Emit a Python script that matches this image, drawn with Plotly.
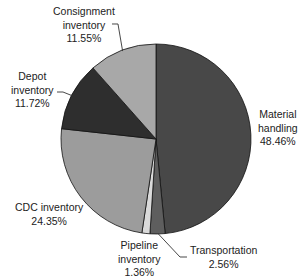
import math
import plotly.graph_objects as go

# ---- data ----
labels = ["Material handling", "Transportation", "Pipeline inventory",
          "CDC inventory", "Depot inventory", "Consignment inventory"]
values = [48.46, 2.56, 1.36, 24.35, 11.72, 11.55]
label_text = ["Material<br>handling<br>48.46%", "Transportation<br>2.56%",
              "Pipeline<br>inventory<br>1.36%", "CDC inventory<br>24.35%",
              "Depot<br>inventory<br>11.72%", "Consignment<br>inventory<br>11.55%"]
colors = ["#484848", "#5e5e5e", "#dadada", "#9c9c9c", "#2e2e2e", "#a8a8a8"]

# ---- layout constants (pixels, y measured from top) ----
W, H = 300, 280
CX, CY, R = 156, 139, 95
label_pos = [(278, 128), (223, 257), (139, 258), (49, 214), (32, 89), (84, 24)]
# leader lines: (index, text-end point, elbow point)
leaders = [(5, (112, 24), (118, 24)), (4, (57, 92), (63, 92)), (1, (187, 257), (180, 257))]

def px(x):
    return x / W

def py(y):
    return 1 - y / H

fig = go.Figure(go.Pie(
    labels=labels, values=values, sort=False, direction="clockwise", rotation=0,
    marker=dict(colors=colors, line=dict(color="#111111", width=0.8)),
    textinfo="none", hoverinfo="label+percent", showlegend=False,
    domain=dict(x=[px(CX - R), px(CX + R)], y=[py(CY + R), py(CY - R)]),
))

total = sum(values)
cum = 0
mid_angles = []
for v in values:
    mid_angles.append((cum + v / 2) / total * 2 * math.pi)
    cum += v

annotations = []
for (x, y), t in zip(label_pos, label_text):
    annotations.append(dict(x=px(x), y=py(y), xref="paper", yref="paper", text=t,
                            showarrow=False, align="center", xanchor="center",
                            yanchor="middle",
                            font=dict(family="Liberation Sans, Arial", size=10.5,
                                      color="#222222")))

shapes = []
for idx, (tx, ty), (ex, ey) in leaders:
    a = mid_angles[idx]
    rr = R * 0.99
    ox, oy = CX + rr * math.sin(a), CY - rr * math.cos(a)
    pts = [(tx, ty), (ex, ey), (ox, oy)]
    path = "M " + " L ".join(f"{px(x):.4f},{py(y):.4f}" for x, y in pts)
    shapes.append(dict(type="path", path=path, xref="paper", yref="paper",
                       line=dict(color="#333333", width=0.9)))

fig.update_layout(width=W, height=H, margin=dict(l=0, r=0, t=0, b=0),
                  paper_bgcolor="white", plot_bgcolor="white",
                  annotations=annotations, shapes=shapes)

fig.write_html("out.html")
